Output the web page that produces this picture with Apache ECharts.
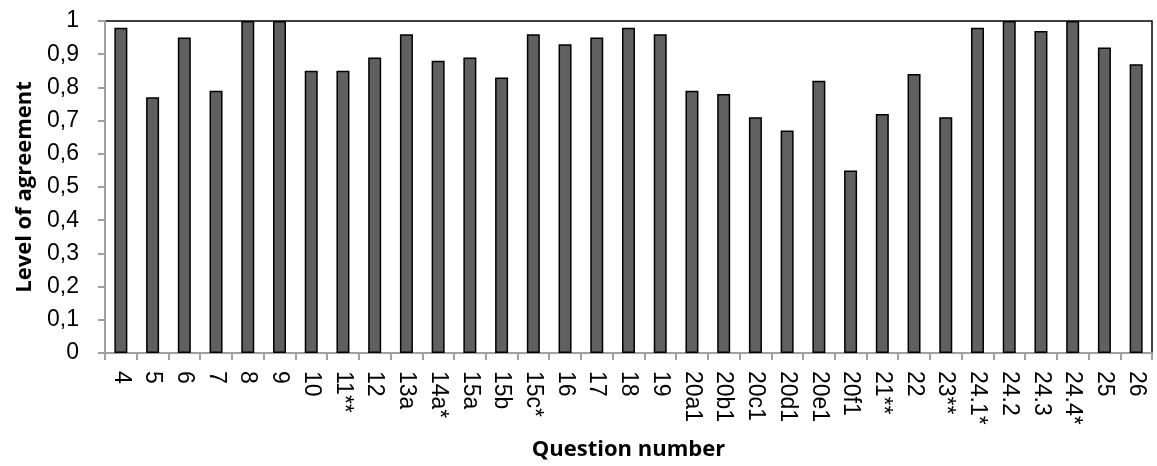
<!DOCTYPE html>
<html>
<head>
<meta charset="utf-8">
<script src="https://cdn.jsdelivr.net/npm/echarts@6/dist/echarts.min.js"></script>
<style>html,body{margin:0;padding:0;background:#fff;}#c{width:1157px;height:466px;}</style>
</head>
<body>
<div id="c"></div>
<script>
var categories = ['4','5','6','7','8','9','10','11**','12','13a','14a*','15a','15b','15c*','16','17','18','19','20a1','20b1','20c1','20d1','20e1','20f1','21**','22','23**','24.1*','24.2','24.3','24.4*','25','26'];
var agreement = [0.98,0.77,0.95,0.79,1.0,1.0,0.85,0.85,0.89,0.96,0.88,0.89,0.83,0.96,0.93,0.95,0.98,0.96,0.79,0.78,0.71,0.67,0.82,0.55,0.72,0.84,0.71,0.98,1.0,0.97,1.0,0.92,0.87];
var yTicks = [0,0.1,0.2,0.3,0.4,0.5,0.6,0.7,0.8,0.9,1];

var chart = echarts.init(document.getElementById('c'));
var font = 'Liberation Sans';
var boldFont = 'Open Sans';
chart.setOption({
  animation: false,
  grid: {left: 105, right: 5, top: 21, bottom: 113, show: true, borderColor: '#000', borderWidth: 1.5, backgroundColor: 'transparent'},
  xAxis: {
    type: 'category',
    data: categories,
    name: 'Question number',
    nameLocation: 'middle',
    nameGap: 86,
    nameTextStyle: {fontFamily: boldFont, fontWeight: 'bold', fontSize: 22, color: '#000'},
    axisLine: {lineStyle: {color: '#a0a0a0', width: 2}},
    axisTick: {show: true, length: 7, lineStyle: {color: '#a0a0a0', width: 2}},
    axisLabel: {rotate: -90, fontFamily: font, fontSize: 23, color: '#000', margin: 18, interval: 0}
  },
  yAxis: {
    type: 'value',
    min: 0, max: 1, interval: 0.1,
    name: 'Level of agreement',
    nameLocation: 'middle',
    nameGap: 69,
    nameTextStyle: {fontFamily: boldFont, fontWeight: 'bold', fontSize: 22, color: '#000'},
    axisLine: {show: true, lineStyle: {color: '#a0a0a0', width: 2}},
    axisTick: {show: true, length: 7, lineStyle: {color: '#a0a0a0', width: 2}},
    splitLine: {show: false},
    axisLabel: {fontFamily: font, fontSize: 23, color: '#000', margin: 26,
      formatter: function (v) { var r = Math.round(v * 10) / 10; return String(r).replace('.', ','); }}
  },
  series: [{
    type: 'bar',
    data: agreement,
    barWidth: 13,
    itemStyle: {color: '#606060', borderColor: '#000', borderWidth: 1.5}
  }]
});
</script>
</body>
</html>
